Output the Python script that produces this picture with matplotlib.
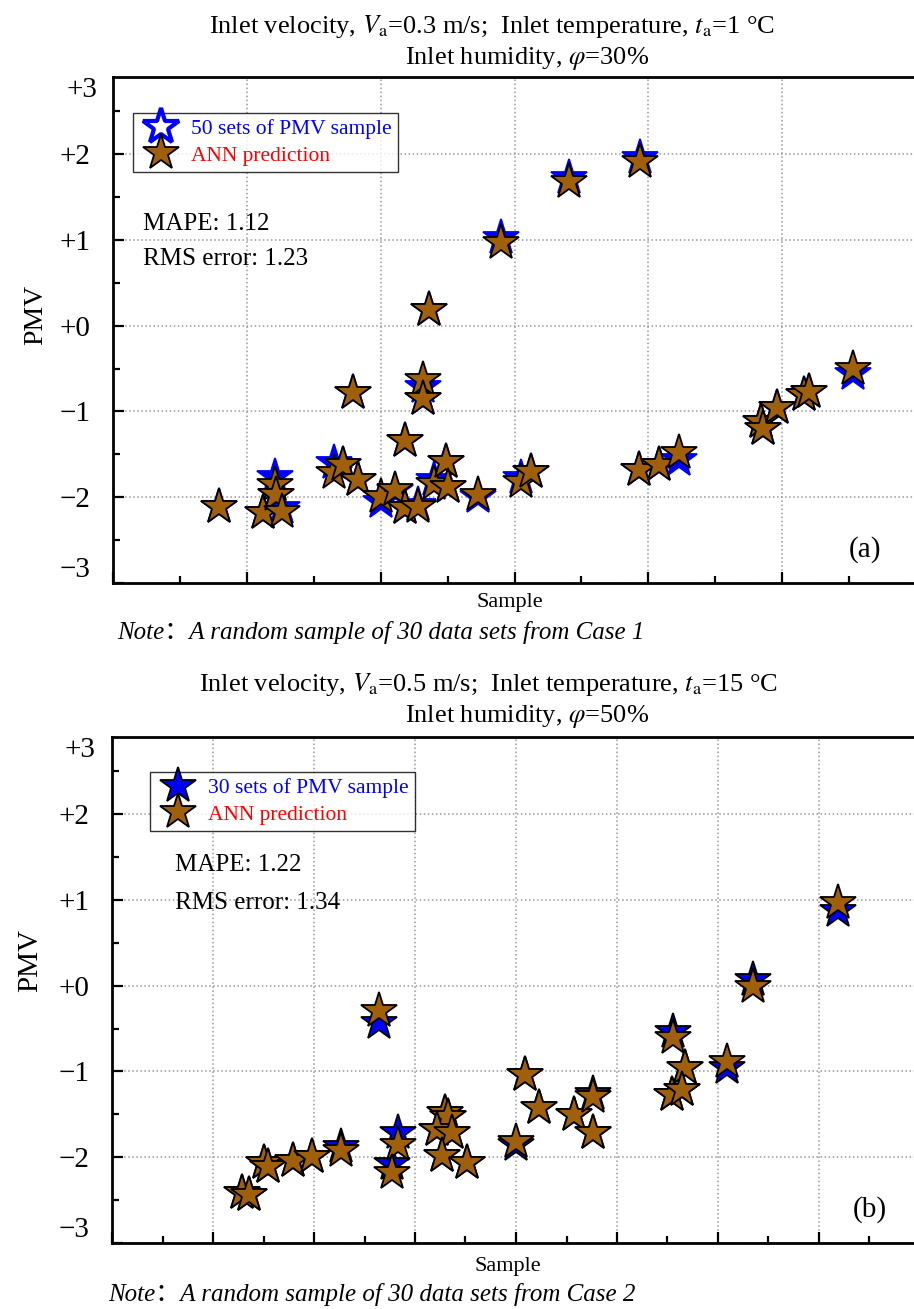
import matplotlib
matplotlib.use('Agg')
import matplotlib.pyplot as plt
from matplotlib.lines import Line2D
from matplotlib.ticker import MultipleLocator

plt.rcParams['font.family'] = ['Liberation Serif', 'Noto Sans CJK SC']
plt.rcParams['mathtext.fontset'] = 'stix'

W, H = 914, 1309

# Case 1: sample position, PMV sample (blue) and ANN prediction (brown)
x_a = [0.79, 1.12, 1.21, 1.22, 1.26, 1.65, 1.72, 1.83, 1.79, 2.00, 2.11, 2.18,
       2.18, 2.28, 2.32, 2.32, 2.36, 2.40, 2.49, 2.50, 2.73, 2.90, 3.05, 3.12,
       3.41, 3.94, 3.93, 4.08, 4.23, 4.84, 4.86, 4.96, 5.16, 5.20, 5.53]
pmv_a = [-2.11, -2.18, -1.76, -1.97, -2.13, -1.60, -1.62, -1.80, -0.78, -2.05,
         -1.93, -2.12, -1.35, -2.09, -0.72, -0.86, 0.18, -1.80, -1.59, -1.88,
         -2.00, 1.02, -1.78, -1.70, 1.72, 1.95, -1.68, -1.62, -1.57, -1.12,
         -1.21, -0.96, -0.81, -0.77, -0.56]
ann_a = [-2.11, -2.18, -1.86, -1.97, -2.17, -1.72, -1.62, -1.80, -0.78, -2.00,
         -1.91, -2.12, -1.35, -2.11, -0.63, -0.86, 0.18, -1.84, -1.59, -1.88,
         -1.97, 0.97, -1.82, -1.70, 1.68, 1.91, -1.68, -1.62, -1.48, -1.12,
         -1.21, -0.96, -0.81, -0.77, -0.51]

# Case 2
x_b = [1.29, 1.36, 1.50, 1.54, 1.79, 1.98, 2.27, 2.64, 2.83, 2.77, 3.30, 3.33,
       3.22, 3.37, 3.27, 3.51, 4.00, 4.09, 4.23, 4.57, 4.76, 4.76, 5.55, 5.54,
       5.67, 5.64, 6.09, 6.35, 7.19]
pmv_b = [-2.42, -2.44, -2.07, -2.11, -2.04, -2.00, -1.88, -0.43, -1.72, -2.08,
         -1.49, -1.53, -1.68, -1.72, -1.98, -2.07, -1.86, -1.04, -1.43, -1.51,
         -1.26, -1.72, -0.54, -1.27, -0.96, -1.22, -0.96, 0.07, 0.87]
ann_b = [-2.42, -2.44, -2.07, -2.11, -2.04, -2.00, -1.93, -0.30, -1.86, -2.18,
         -1.49, -1.53, -1.68, -1.72, -1.98, -2.07, -1.82, -1.04, -1.43, -1.51,
         -1.30, -1.72, -0.61, -1.27, -0.96, -1.22, -0.89, -0.02, 0.97]

YTICKS = [-3, -2, -1, 0, 1, 2]
YLABELS = ['\u22123', '\u22122', '\u22121', '+0', '+1', '+2']
BROWN = '#A0600B'
MS = 27


def px(x, y):
    return x / W, 1 - y / H


def panel(ax, x, pmv, ann, xmax, blue_edge):
    ax.grid(True, which='major', color='#999999', linestyle=':', linewidth=1.1)
    ax.set_axisbelow(True)
    ax.plot(x, pmv, ls='none', marker='*', ms=MS, mfc='blue', mec=blue_edge, mew=1.3)
    ax.plot(x, ann, ls='none', marker='*', ms=MS, mfc=BROWN, mec='black', mew=1.3)
    ax.set_xlim(0, xmax)
    ax.set_ylim(-3, 2.9)
    ax.xaxis.set_major_locator(MultipleLocator(1))
    ax.xaxis.set_minor_locator(MultipleLocator(0.5))
    ax.yaxis.set_minor_locator(MultipleLocator(0.5))
    ax.set_yticks(YTICKS)
    ax.set_yticklabels(YLABELS, fontsize=21)
    ax.set_xticklabels([])
    ax.tick_params(which='both', direction='in', top=False, right=False, width=1.6)
    ax.tick_params(which='major', length=8, pad=16)
    ax.tick_params(which='minor', length=5)
    ax.get_yticklabels()[0].set_va('bottom')
    ax.text(-0.02, 1.0, '+3', transform=ax.transAxes, ha='right', va='top', fontsize=21)
    for s in ax.spines.values():
        s.set_linewidth(2.0)


def legend(ax, handles, labels, anchor):
    leg = ax.legend(handles, labels, loc='upper left', bbox_to_anchor=anchor,
                    borderaxespad=0, fontsize=15.5, frameon=True, fancybox=False,
                    edgecolor='black', handlelength=2.0, handletextpad=0.4,
                    borderpad=0.3, labelspacing=0.3)
    leg.get_frame().set_linewidth(1.0)
    for t, c in zip(leg.get_texts(), ['blue', 'red']):
        t.set_color(c)


fig = plt.figure(figsize=(W / 100, H / 100), dpi=100)

# panel (a)
ax1 = fig.add_axes([113 / W, (H - 583) / H, (916 - 113) / W, (583 - 77) / H])
panel(ax1, x_a, pmv_a, ann_a, 6, 'blue')
h1 = [Line2D([], [], ls='none', marker='*', ms=MS, mfc='white', mec='blue', mew=3),
      Line2D([], [], ls='none', marker='*', ms=MS, mfc=BROWN, mec='black', mew=1.3)]
legend(ax1, h1, ['50 sets of PMV sample', 'ANN prediction'], (0.025, 0.929))
ax1.text(*px(143, 224), 'MAPE: 1.12', transform=fig.transFigure, fontsize=18, va='center')
ax1.text(*px(143, 259), 'RMS error: 1.23', transform=fig.transFigure, fontsize=18, va='center')
ax1.text(*px(865, 550), '(a)', transform=fig.transFigure, fontsize=21, ha='center', va='center')

fig.text(*px(492, 27), r'Inlet velocity, $V_\mathrm{a}$=0.3 m/s;  Inlet temperature, $t_\mathrm{a}$=1 °C',
         fontsize=19, ha='center', va='center')
fig.text(*px(527, 58), r'Inlet humidity, $\varphi$=30%', fontsize=19, ha='center', va='center')
fig.text(*px(36, 315), 'PMV', fontsize=20, rotation=90, ha='center', va='center')
fig.text(*px(510, 603), 'Sample', fontsize=16, ha='center', va='center')
fig.text(*px(117, 632), 'Note：A random sample of 30 data sets from Case 1', fontsize=18,
         style='italic', ha='left', va='center')

# panel (b)
ax2 = fig.add_axes([112 / W, (H - 1243) / H, (920 - 112) / W, (1243 - 737) / H])
panel(ax2, x_b, pmv_b, ann_b, 8, 'black')
h2 = [Line2D([], [], ls='none', marker='*', ms=MS, mfc='blue', mec='black', mew=1.3),
      Line2D([], [], ls='none', marker='*', ms=MS, mfc=BROWN, mec='black', mew=1.3)]
legend(ax2, h2, ['30 sets of PMV sample', 'ANN prediction'], (0.047, 0.931))
ax2.text(*px(175, 865), 'MAPE: 1.22', transform=fig.transFigure, fontsize=18, va='center')
ax2.text(*px(175, 903), 'RMS error: 1.34', transform=fig.transFigure, fontsize=18, va='center')
ax2.text(*px(870, 1210), '(b)', transform=fig.transFigure, fontsize=21, ha='center', va='center')

fig.text(*px(488, 685), r'Inlet velocity, $V_\mathrm{a}$=0.5 m/s;  Inlet temperature, $t_\mathrm{a}$=15 °C',
         fontsize=19, ha='center', va='center')
fig.text(*px(527, 716), r'Inlet humidity, $\varphi$=50%', fontsize=19, ha='center', va='center')
fig.text(*px(30, 960), 'PMV', fontsize=21, rotation=90, ha='center', va='center')
fig.text(*px(508, 1266), 'Sample', fontsize=16, ha='center', va='center')
fig.text(*px(108, 1295), 'Note：A random sample of 30 data sets from Case 2', fontsize=18,
         style='italic', ha='left', va='center')

fig.savefig('out.png', dpi=100)
